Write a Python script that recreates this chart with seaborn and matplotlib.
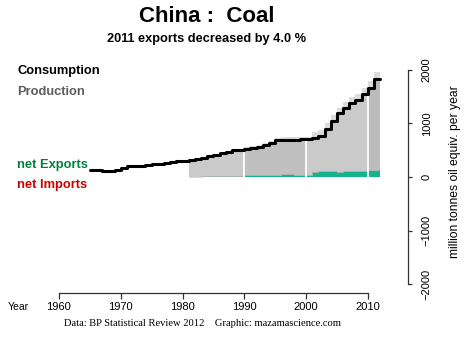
import matplotlib
matplotlib.use("Agg")
import matplotlib.pyplot as plt
import numpy as np
import pandas as pd
import seaborn as sns

# ---------------- data (million tonnes oil equivalent) ----------------
cons_years = list(range(1965, 2012))
consumption = [130, 130, 105, 105, 130, 173, 200, 204, 214, 216,
               241, 241, 259, 278, 300, 296, 315, 333, 364, 389,
               420, 444, 469, 500, 512, 525, 535, 562, 605, 642,
               685, 698, 698, 700, 716, 716, 734, 759, 901, 1055,
               1191, 1290, 1376, 1438, 1549, 1660, 1830]

prod_years = list(range(1981, 2012))
production = [323, 341, 374, 401, 438, 466, 487, 515, 527, 555,
              570, 597, 640, 682, 730, 753, 748, 740, 751, 746,
              834, 869, 1011, 1160, 1291, 1395, 1486, 1543, 1659, 1795,
              1960]
net_exports = [8, 8, 10, 12, 18, 22, 18, 15, 15, 30,
               35, 35, 35, 40, 45, 55, 50, 40, 35, 30,
               100, 110, 110, 105, 100, 105, 110, 105, 110, 135,
               130]

x_ticks = [1960, 1970, 1980, 1990, 2000, 2010]
y_ticks = [-2000, -1000, 0, 1000, 2000]
decade_marks = [1990, 2000, 2010]

title = "China :  Coal"
subtitle = "2011 exports decreased by 4.0 %"
ylabel = "million tonnes oil equiv. per year"
footer = "Data: BP Statistical Review 2012    Graphic: mazamascience.com"

# ---------------- style ----------------
sns.set_style("white")
plt.rcParams["font.family"] = ["Liberation Sans", "DejaVu Sans"]
plt.rcParams["text.color"] = "black"
plt.rcParams["xtick.color"] = "black"
plt.rcParams["ytick.color"] = "black"

W, H = 468, 340
fig = plt.figure(figsize=(W / 100, H / 100), dpi=100)
left_px, right_px, top_px, bot_px = 15.7, 408.0, 61.4, 292.6
ax = fig.add_axes([left_px / W, 1 - bot_px / H,
                   (right_px - left_px) / W, (bot_px - top_px) / H])
ax.set_xlim(1953, 2016.5)
ax.set_ylim(-2160, 2160)


def ext(xs, ys):
    return list(xs) + [xs[-1] + 1], list(ys) + [ys[-1]]


# production (light grey, visible above consumption)
px, py = ext(prod_years, production)
ax.fill_between(px, 0, py, step="post", color="#dcdcdc", lw=0, zorder=1)

# consumption fill under the line, alternating decade shades
cons_s = pd.Series(consumption, index=cons_years)
bounds = [1981, 1990, 2000, 2010, 2012]
shades = ["#cacaca", "#c0c0c0", "#cacaca", "#bcbcbc"]
for (a, b), col in zip(zip(bounds[:-1], bounds[1:]), shades):
    yrs = list(range(a, b))
    fx, fy = ext(yrs, cons_s.loc[yrs].tolist())
    ax.fill_between(fx, 0, fy, step="post", color=col, lw=0, zorder=2)

# net exports (teal)
ex, ey = ext(prod_years, net_exports)
ax.fill_between(ex, 0, ey, step="post", color="#12b48e", lw=0, zorder=3)
ax.step(ex, ey, where="post", color="#e8b8b8", lw=0.5, zorder=3.5)

# white decade separators
for d in decade_marks:
    ax.vlines(d, 0, cons_s.loc[d - 1], color="white", lw=1.3, zorder=4)

# consumption line
lx, ly = ext(cons_years, consumption)
df = pd.DataFrame({"year": lx, "value": ly})
sns.lineplot(data=df, x="year", y="value", ax=ax, color="black",
             lw=2.2, drawstyle="steps-post", estimator=None, sort=False,
             zorder=5)

# ---------------- axes ----------------
for s in ["top", "left"]:
    ax.spines[s].set_visible(False)
ax.spines["bottom"].set_bounds(1960, 2010)
ax.spines["right"].set_bounds(-2000, 2000)
for s in ["bottom", "right"]:
    ax.spines[s].set_visible(True)
    ax.spines[s].set_color("#333333")
    ax.spines[s].set_linewidth(0.9)

ax.set_xticks(x_ticks)
ax.set_xticklabels([str(v) for v in x_ticks])
ax.yaxis.tick_right()
ax.set_yticks(y_ticks)
ax.set_yticklabels([str(v).replace("-", "\u2212") for v in y_ticks])
ax.tick_params(axis="x", bottom=True, top=False, direction="out",
               length=4, width=0.9, color="#333333", labelcolor="black",
               pad=3, labelsize=8)
ax.tick_params(axis="y", right=True, left=False, labelright=True,
               labelleft=False, direction="out", length=3, width=0.9,
               color="#333333", labelcolor="black", pad=7, labelsize=8,
               labelrotation=90)
for lab in ax.get_yticklabels():
    lab.set_va("center")
ax.set_xlabel("")
ax.set_ylabel("")
ax.grid(False)


def ftxt(xp, yp, s, **kw):
    fig.text(xp / W, 1 - yp / H, s, **kw)


ftxt(207, 16, title, ha="center", va="center", fontsize=16, weight="bold",
     color="black")
ftxt(207, 39, subtitle, ha="center", va="center", fontsize=9.2,
     weight="bold", color="black")
ftxt(17, 71, "Consumption", ha="left", va="center", fontsize=9.3,
     weight="bold", color="black")
ftxt(17, 92, "Production", ha="left", va="center", fontsize=9.3,
     weight="bold", color="#5c5c5c")
ftxt(17, 165, "net Exports", ha="left", va="center", fontsize=9.3,
     weight="bold", color="#00803e")
ftxt(17, 185, "net Imports", ha="left", va="center", fontsize=9.3,
     weight="bold", color="#cc0000")
ftxt(18, 307, "Year", ha="center", va="center", fontsize=7.5, color="black")
ftxt(455, 172, ylabel, ha="center", va="center", rotation=90, fontsize=8.7,
     color="black")
ftxt(202, 323, footer, ha="center", va="center", fontsize=7.6,
     color="black", family=["Liberation Serif", "DejaVu Serif"])

fig.savefig("out.png", dpi=100)
